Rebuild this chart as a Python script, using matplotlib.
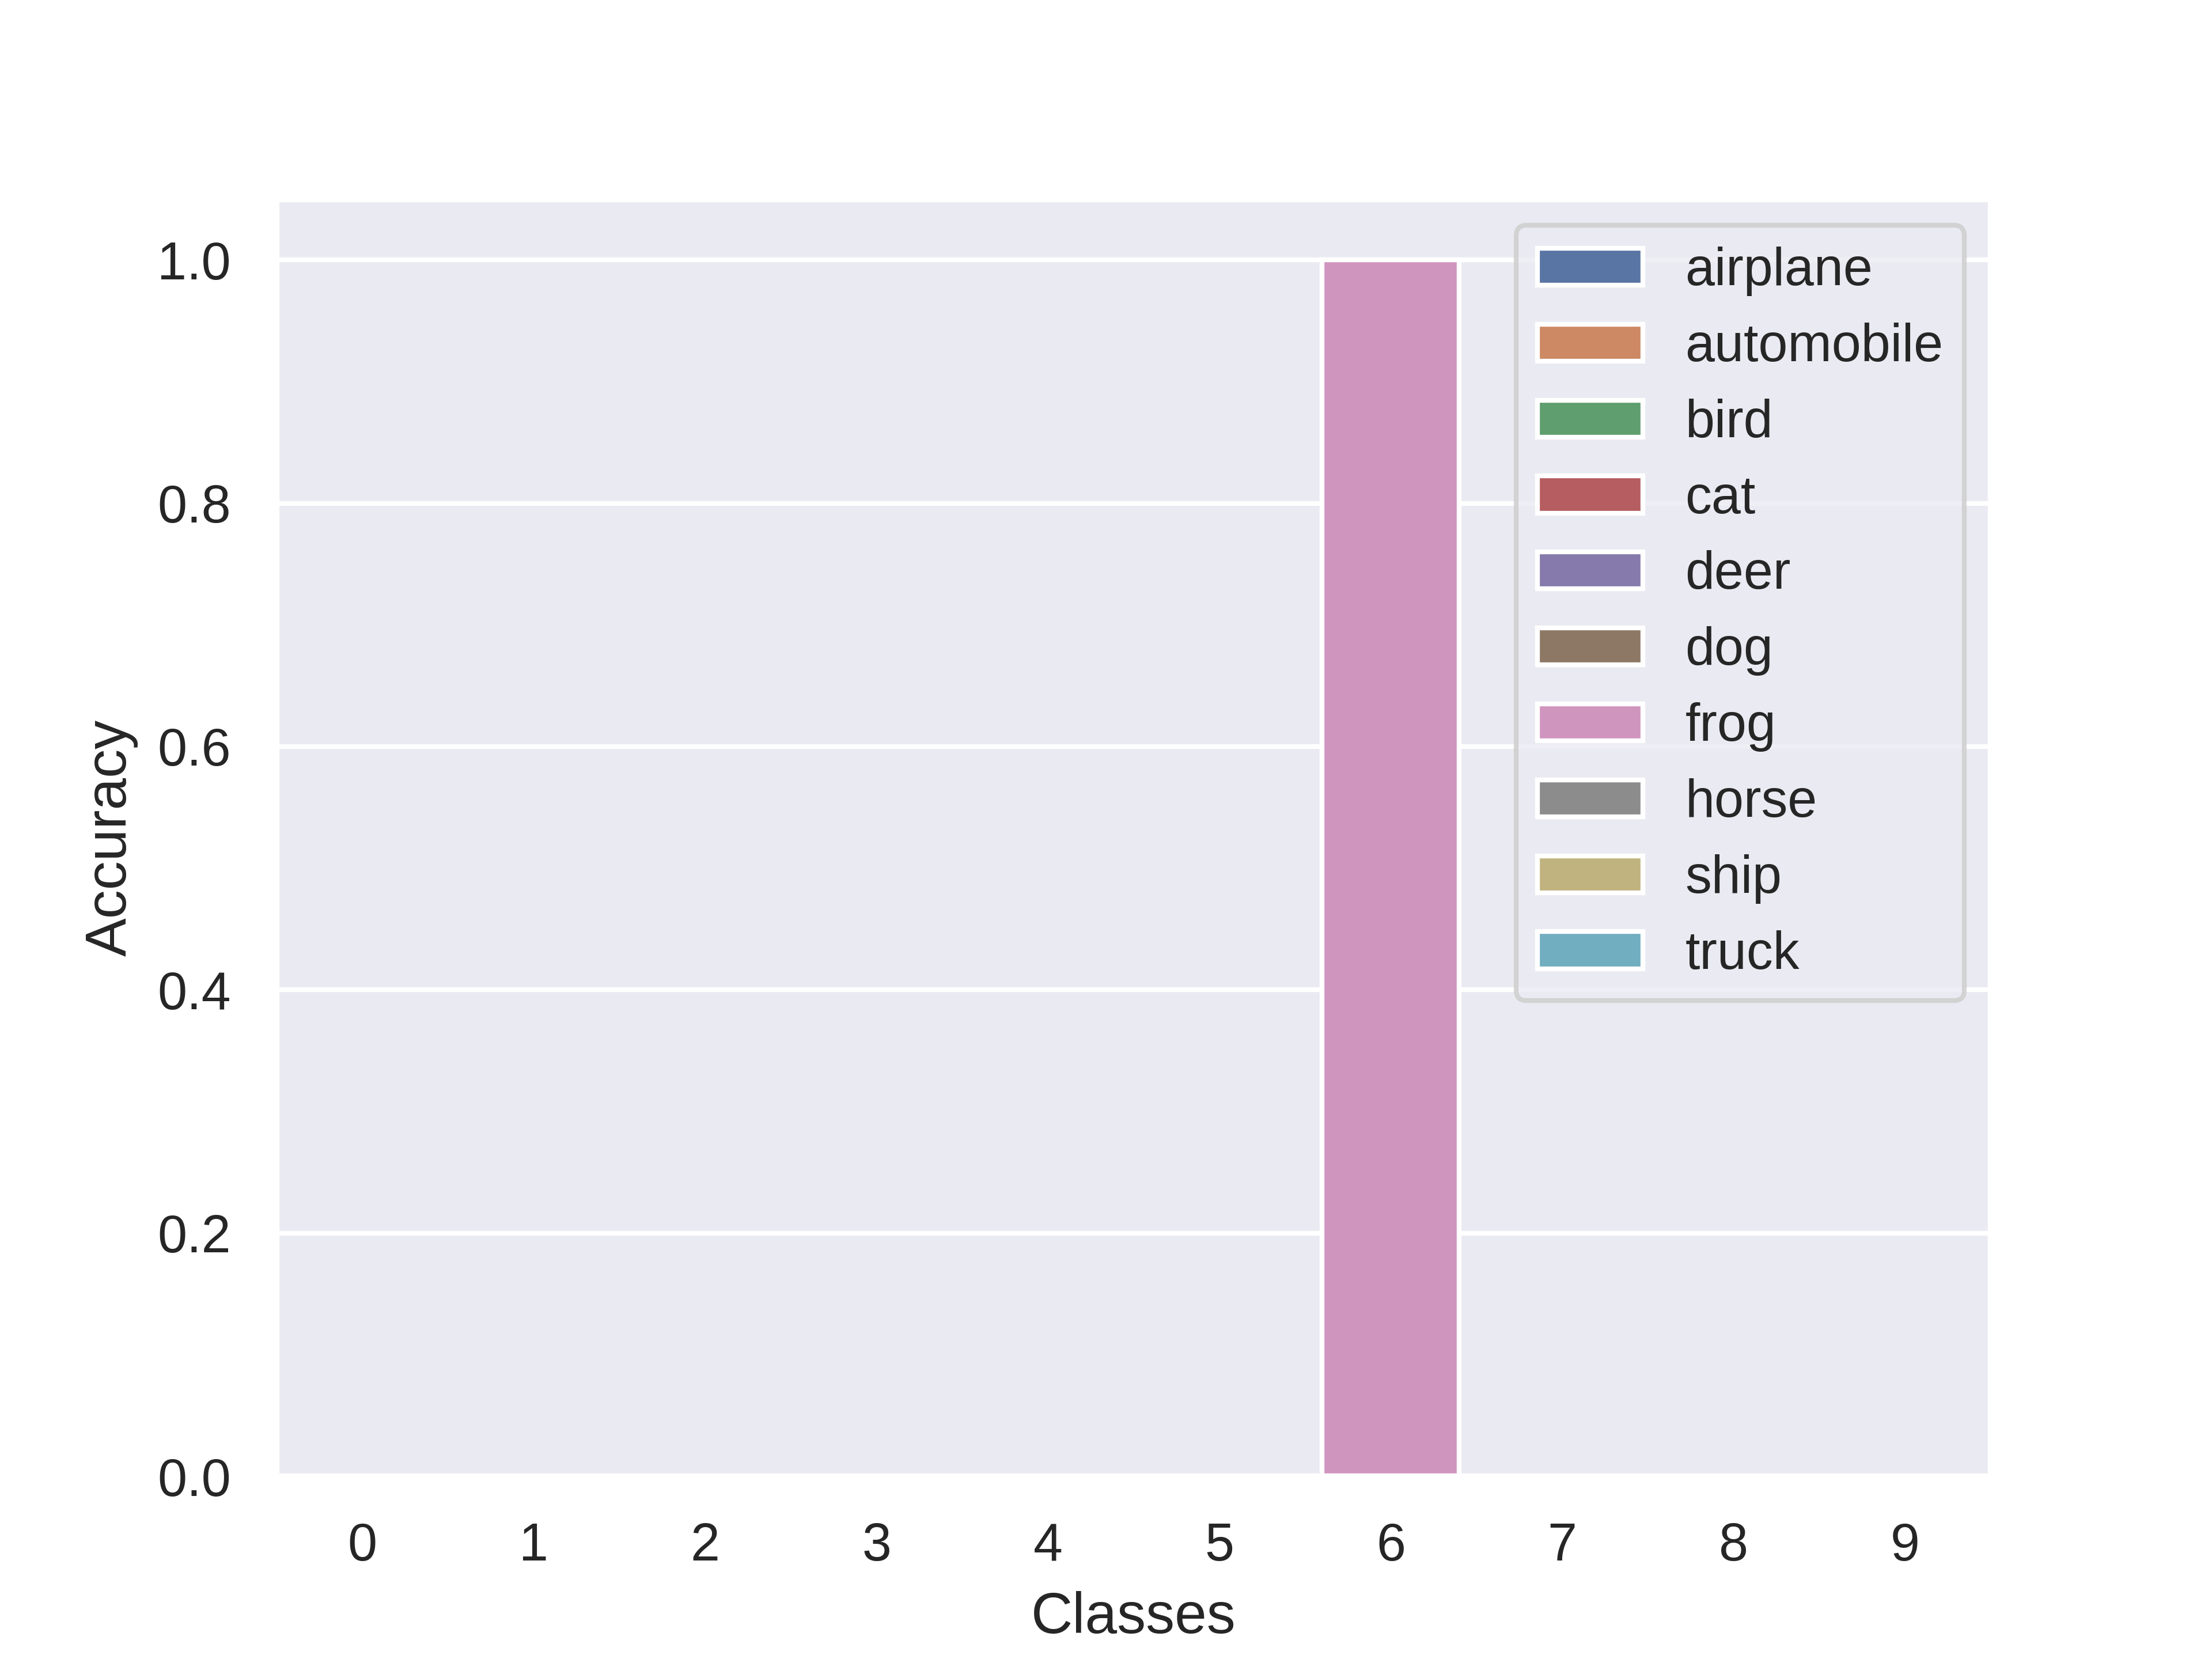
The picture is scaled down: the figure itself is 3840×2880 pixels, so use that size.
import matplotlib
matplotlib.use("Agg")
import matplotlib.pyplot as plt
import seaborn as sns

classes = list(range(10))
names = ["airplane", "automobile", "bird", "cat", "deer",
         "dog", "frog", "horse", "ship", "truck"]
accuracy = [0.0, 0.0, 0.0, 0.0, 0.0, 0.0, 1.0, 0.0, 0.0, 0.0]

sns.set_theme()
plt.rcParams["font.family"] = ["Liberation Sans", "DejaVu Sans"]

fig, ax = plt.subplots(figsize=(6.4, 4.8))
sns.barplot(x=classes, y=accuracy, hue=names, dodge=False,
            palette="deep", ax=ax)
ax.set_xlabel("Classes")
ax.set_ylabel("Accuracy")
ax.legend(loc="upper right")
fig.savefig("out.png", dpi=600)
